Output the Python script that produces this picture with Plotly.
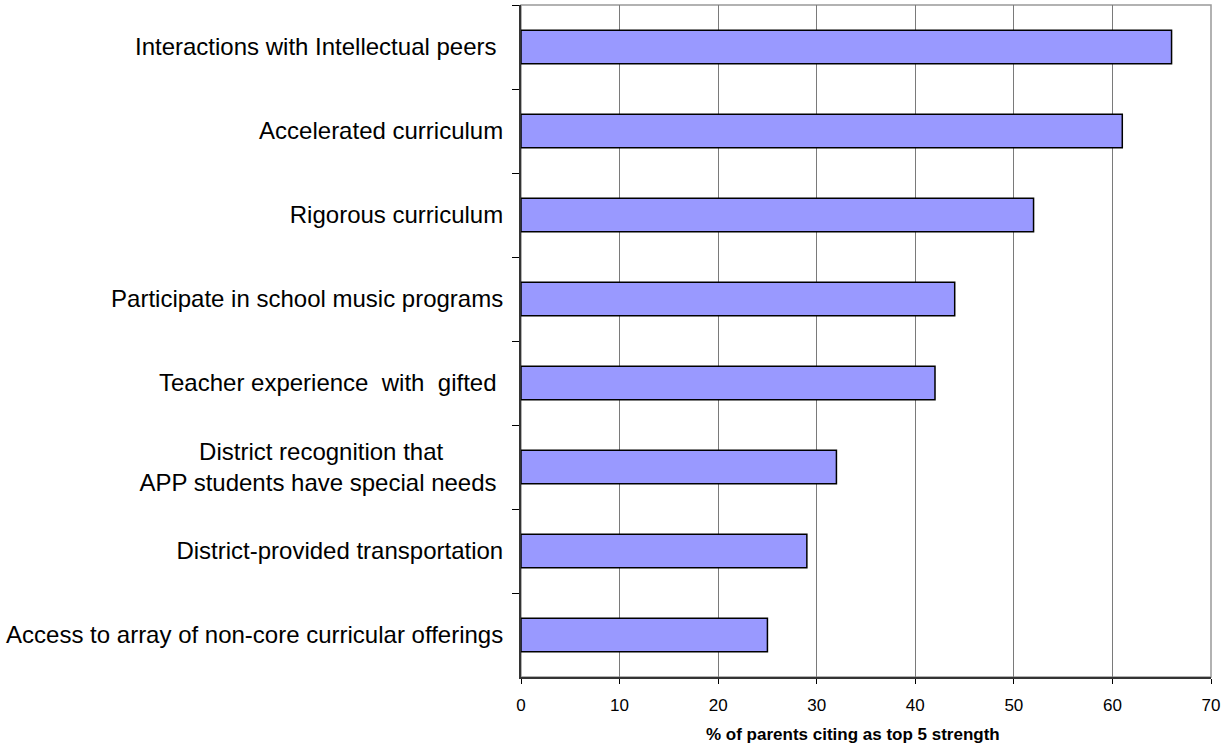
import plotly.graph_objects as go

# Strengths of the program, as cited by parents (top to bottom)
categories = [
    "Interactions with Intellectual peers ",
    "Accelerated curriculum",
    "Rigorous curriculum",
    "Participate in school music programs",
    "Teacher experience  with  gifted ",
    "District recognition that         <br>APP students have special needs ",
    "District-provided transportation",
    "Access to array of non-core curricular offerings",
]
percent_citing = [66, 61, 52, 44, 42, 32, 29, 25]

x_ticks = [0, 10, 20, 30, 40, 50, 60, 70]
x_title = "<b>% of parents citing as top 5 strength</b>"

font_family = "Liberation Sans, Arial, sans-serif"

fig = go.Figure(
    go.Bar(
        x=percent_citing,
        y=categories,
        orientation="h",
        marker=dict(color="#9999FF", line=dict(color="#000000", width=1.5)),
        hoverinfo="x+y",
    )
)

fig.update_layout(
    width=1225,
    height=744,
    margin=dict(l=521, r=10, t=5, b=67),
    paper_bgcolor="white",
    plot_bgcolor="white",
    bargap=0.6,
    showlegend=False,
    font=dict(family=font_family, color="#000000"),
    shapes=[
        # light frame around the plotting area
        dict(
            type="rect", xref="paper", yref="paper", x0=0, y0=0, x1=1, y1=1,
            line=dict(color="#999999", width=1.5), layer="below",
        )
    ],
    annotations=[
        # axis title, set slightly left of the plot centre
        dict(
            text=x_title, xref="paper", yref="paper", x=0.4805, y=0,
            yshift=-57, xanchor="center", yanchor="middle",
            showarrow=False, font=dict(size=17),
        )
    ],
)

fig.update_xaxes(
    range=[0, 70],
    tickmode="array",
    tickvals=x_ticks,
    ticktext=[str(v) for v in x_ticks],
    showgrid=True,
    gridcolor="#7a7a7a",
    gridwidth=1,
    zeroline=False,
    showline=True,
    linecolor="#333333",
    linewidth=2,
    ticks="outside",
    ticklen=5,
    tickcolor="#000000",
    tickfont=dict(size=17),
    ticklabelstandoff=7,
)

fig.update_yaxes(
    type="category",
    autorange="reversed",
    tickson="boundaries",
    ticks="outside",
    ticklen=7,
    tickcolor="#000000",
    showgrid=False,
    showline=True,
    linecolor="#333333",
    linewidth=2,
    tickfont=dict(size=24),
    ticklabelstandoff=11,
)

fig.write_html("out.html")
